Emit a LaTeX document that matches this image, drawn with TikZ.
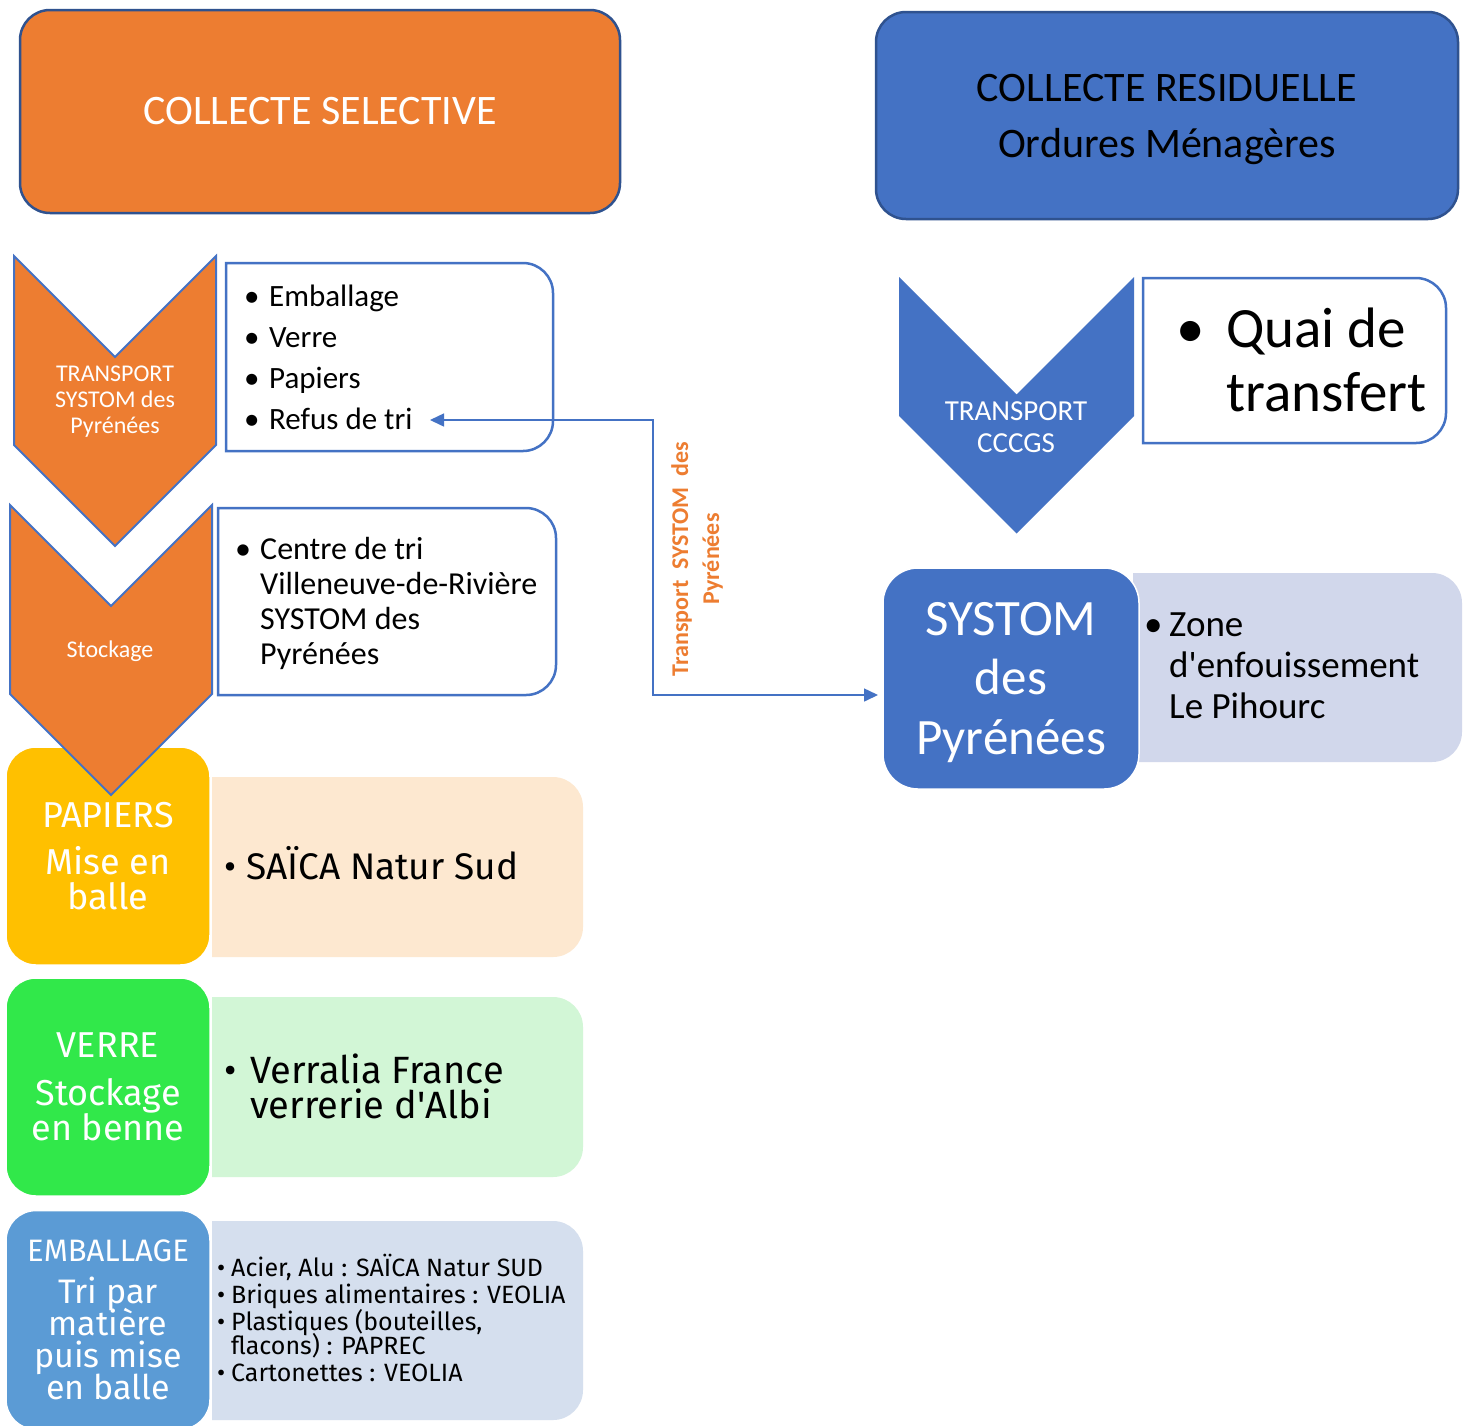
\documentclass[tikz,border=0pt]{standalone}
\usepackage{fontspec}
\setmainfont{Carlito}
\newfontfamily\fira{Fira Sans}
\usetikzlibrary{arrows.meta}
\definecolor{orangeA}{HTML}{ED7D31}
\definecolor{blueA}{HTML}{4472C4}
\definecolor{blueB}{HTML}{2F528F}
\definecolor{blueC}{HTML}{5B9BD5}
\definecolor{yellowA}{HTML}{FFC000}
\definecolor{greenA}{HTML}{31E84A}
\definecolor{paleOrange}{HTML}{FDE8D0}
\definecolor{paleGreen}{HTML}{D2F6D6}
\definecolor{paleBlue}{HTML}{D5DFEE}
\definecolor{paleLav}{HTML}{D1D7EB}
\newcommand\fsz[2]{\fontsize{#1}{#2}\selectfont\lineskiplimit=-50pt\relax}
\newcommand\bul[1]{\makebox[#1][l]{•}}
% x1 y1 x2 y2 style : box rounded on the right side only
\newcommand\halfround[5]{%
  \path[#5] (#1,#2) -- ({#3-30},#2) arc[start angle=90,end angle=0,radius=30pt]
    -- (#3,{#4-30}) arc[start angle=0,end angle=-90,radius=30pt] -- (#1,#4) -- cycle;}
% x y width side style : chevron pointing down
\newcommand\chevron[5]{%
  \path[#5] (#1,#2) -- ({#1+#3/2},{#2+#3/2}) -- ({#1+#3},#2) -- ({#1+#3},{#2+#4})
    -- ({#1+#3/2},{#2+#4+#3/2}) -- (#1,{#2+#4}) -- cycle;}
\begin{document}
\begin{tikzpicture}[x=1pt, y=-1pt,
  headbox/.style={draw=blueB, line width=2.5pt, rounded corners=30pt, align=center, font=\fsz{42}{56}},
  chevlabel/.style={text=white, align=center, font=\fsz{24}{26}},
  listbox/.style={draw=blueA, line width=2.5pt, fill=white},
  listtext/.style={anchor=west, align=left, inner sep=0pt},
  catbox/.style={draw=white, line width=1.5pt, rounded corners=30pt, text=white, align=center, minimum width=204pt},
  link/.style={draw=blueA, line width=1.5pt, {Triangle[length=14pt,width=13pt]}-{Triangle[length=14pt,width=13pt]}}]
\fill[white] (0,0) rectangle (1466,1425);
\useasboundingbox (0,0) rectangle (1466,1425);

\node[headbox, fill=orangeA, text=white, minimum width=600pt, minimum height=203pt] (selective) at (320,111.5) {COLLECTE SELECTIVE};
\node[headbox, fill=blueA, minimum width=582pt, minimum height=207pt] (residuelle) at (1167,115.5) {\rule{0pt}{35pt}COLLECTE RESIDUELLE\\Ordures Ménagères};

\halfround{226}{263}{553}{451}{listbox}
\node[listtext, font=\fsz{31}{41}] (flux) at (244,357) {\bul{25pt}Emballage\\\bul{25pt}Verre\\\bul{25pt}Papiers\\\bul{25pt}Refus de tri};
\halfround{218}{508}{556}{695}{listbox}
\node[listtext, font=\fsz{32}{35}] (centretri) at (235,603) {\bul{25pt}Centre de tri\\\hspace*{25pt}Villeneuve-de-Rivière\\\hspace*{25pt}SYSTOM des\\\hspace*{25pt}Pyrénées};

\halfround{212}{777}{583}{957}{fill=paleOrange}
\halfround{212}{997}{583}{1177}{fill=paleGreen}
\halfround{212}{1221}{583}{1420}{fill=paleBlue}
\node[catbox, fill=yellowA, minimum height=218pt, font=\fira\fsz{36}{35}] (papiers) at (108,856) {PAPIERS\\[12pt]Mise en\\balle};
\node[catbox, fill=greenA, minimum height=218pt, font=\fira\fsz{36}{35}] (verre) at (108,1087) {VERRE\\[13pt]Stockage\\en benne};
\node[catbox, fill=blueC, minimum height=219pt, font=\fira\fsz{34}{32}] (emballage) at (108,1320) {{\fsz{31}{32}EMBALLAGE}\\[10pt]Tri par\\matière\\puis mise\\en balle};
\node[listtext, font=\fira\fsz{37}{35}] (saica) at (224,863) {\bul{22pt}SAÏCA Natur Sud};
\node[listtext, font=\fira\fsz{38}{35}] (verralia) at (224,1086) {\bul{26pt}Verralia France\\\hspace*{26pt}verrerie d\textquotesingle Albi};
\node[listtext, font=\fira\fsz{25}{24}] (repreneurs) at (217,1318) {\bul{14pt}Acier, Alu : SAÏCA Natur SUD\\[3pt]\bul{14pt}Briques alimentaires : VEOLIA\\[3pt]\bul{14pt}Plastiques (bouteilles,\\\hspace*{14pt}flacons) : PAPREC\\[3pt]\bul{14pt}Cartonettes : VEOLIA};

\chevron{14}{256}{202}{189}{fill=orangeA, draw=blueA, line width=2pt}
\node[chevlabel] (transport) at (115,402) {TRANSPORT\\SYSTOM des\\Pyrénées};
\chevron{10}{505}{202}{189}{fill=orangeA, draw=blueA, line width=2pt}
\node[chevlabel] (stockage) at (110,651) {Stockage};

\chevron{899}{277}{235}{139}{fill=blueA}
\node[chevlabel, font=\fsz{29}{32}] (cccgs) at (1016,427) {TRANSPORT\\CCCGS};
\halfround{1143}{278}{1446}{443}{listbox}
\node[listtext, font=\fsz{57}{64}] (quai) at (1176,360) {\bul{50pt}Quai de\\\hspace*{50pt}transfert};

\halfround{1133}{573}{1462}{762}{fill=paleLav}
\node[catbox, fill=blueA, minimum width=256pt, minimum height=221pt, rounded corners=35pt, font=\fsz{51}{59.5}] (systom) at (1011,678.5) {\rule{0pt}{41pt}SYSTOM\\des\\Pyrénées};
\node[listtext, font=\fsz{37}{41}] (pihourc) at (1144,666) {\bul{25pt}Zone\\\hspace*{25pt}d\textquotesingle enfouissement\\\hspace*{25pt}Le Pihourc};

\node[rotate=90, text=orangeA, align=center, font=\bfseries\fsz{24}{31}] (transpsys) at (697,559) {Transport\ \ SYSTOM\ \ des\\Pyrénées};

\coordinate (refus) at (430,420);
\coordinate (elbow) at (653,420);
\coordinate (sysin) at (878,695);
\draw[link] (refus) -- (elbow) |- (sysin);
\end{tikzpicture}
\end{document}
